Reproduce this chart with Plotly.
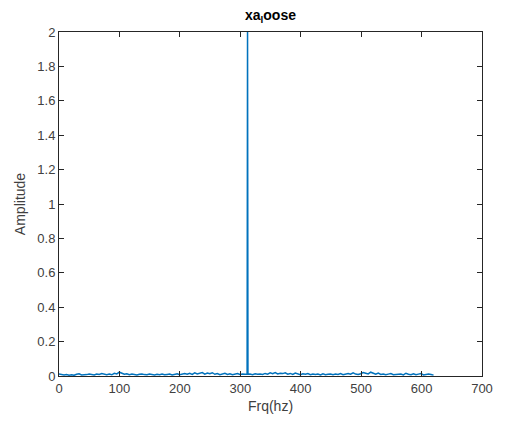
import numpy as np
import plotly.graph_objects as go

# Background spectrum amplitudes on a regular frequency grid
grid_step_hz = 4.16
noise_amplitude = [
    0.012, 0.008, 0.006, 0.009, 0.005, 0.007, 0.004, 0.010, 0.013, 0.006,
    0.005, 0.008, 0.011, 0.007, 0.006, 0.012, 0.009, 0.014, 0.010, 0.008,
    0.011, 0.007, 0.016, 0.012, 0.022, 0.015, 0.010, 0.013, 0.008, 0.011,
    0.009, 0.006, 0.010, 0.012, 0.008, 0.007, 0.011, 0.009, 0.006, 0.010,
    0.008, 0.012, 0.007, 0.009, 0.011, 0.006, 0.010, 0.013, 0.008, 0.012,
    0.014, 0.010, 0.016, 0.009, 0.018, 0.012, 0.015, 0.020, 0.011, 0.017,
    0.013, 0.019, 0.010, 0.014, 0.008, 0.012, 0.016, 0.009, 0.013, 0.007,
    0.011, 0.014, 0.009, 0.012, 0.010, 0.011, 0.011, 0.008, 0.013, 0.010,
    0.012, 0.009, 0.015, 0.011, 0.018, 0.013, 0.020, 0.012, 0.016, 0.014,
    0.019, 0.011, 0.015, 0.009, 0.017, 0.012, 0.008, 0.013, 0.010, 0.014,
    0.007, 0.012, 0.009, 0.011, 0.006, 0.013, 0.008, 0.010, 0.012, 0.007,
    0.011, 0.009, 0.014, 0.008, 0.012, 0.015, 0.010, 0.018, 0.011, 0.009,
    0.013, 0.020, 0.016, 0.012, 0.022, 0.014, 0.010, 0.017, 0.009, 0.012,
    0.008, 0.011, 0.014, 0.007, 0.010, 0.009, 0.012, 0.006, 0.016, 0.010,
    0.008, 0.013, 0.007, 0.011, 0.014, 0.006, 0.010, 0.012, 0.009, 0.005,
]

# The single tone peak
spike_freq = [311.3, 312.0, 312.7]
spike_amp = [0.010, 2.0, 0.010]

x_ticks = [0, 100, 200, 300, 400, 500, 600, 700]
y_ticks = [0, 0.2, 0.4, 0.6, 0.8, 1, 1.2, 1.4, 1.6, 1.8, 2]
y_labels = ["0", "0.2", "0.4", "0.6", "0.8", "1", "1.2", "1.4", "1.6", "1.8", "2"]

grid_freq = np.arange(len(noise_amplitude)) * grid_step_hz
keep = np.abs(grid_freq - spike_freq[1]) > 1.0
all_freq = np.concatenate([grid_freq[keep], spike_freq])
all_amp = np.concatenate([np.array(noise_amplitude)[keep], spike_amp])
order = np.argsort(all_freq)
freq = all_freq[order]
amplitude = all_amp[order]

fig = go.Figure()
fig.add_trace(go.Scatter(x=freq, y=amplitude, mode="lines",
                         line=dict(color="#0072BD", width=1.5), showlegend=False))

FONT = "Liberation Sans, Arial, sans-serif"
axis_common = dict(
    showgrid=False, zeroline=False, showline=True, linecolor="#262626", linewidth=1,
    mirror="ticks", ticks="inside", ticklen=5, tickcolor="#262626",
    tickfont=dict(family=FONT, size=13, color="#404040"),
)

# the page body has an 8px margin, so the figure is offset by 8px
fig.update_layout(
    width=497, height=415,
    margin=dict(l=48, r=17, t=24, b=46),
    paper_bgcolor="white", plot_bgcolor="white",
    font=dict(family=FONT, color="#262626"),
    title=dict(text="<b>xa<sub>l</sub>oose</b>", xref="paper", x=0.5, xanchor="center",
               yref="container", y=1 - 7 / 415, yanchor="middle",
               font=dict(size=14, color="black")),
    xaxis=dict(range=[0, 700], tickvals=x_ticks, ticktext=[str(v) for v in x_ticks],
               title=dict(text="Frq(hz)", font=dict(size=14, color="#404040"), standoff=6),
               **axis_common),
    yaxis=dict(range=[0, 2], tickvals=y_ticks, ticktext=y_labels,
               title=dict(text="Amplitude", font=dict(size=14, color="#404040"), standoff=8),
               **axis_common),
)

fig.write_html("out.html")
